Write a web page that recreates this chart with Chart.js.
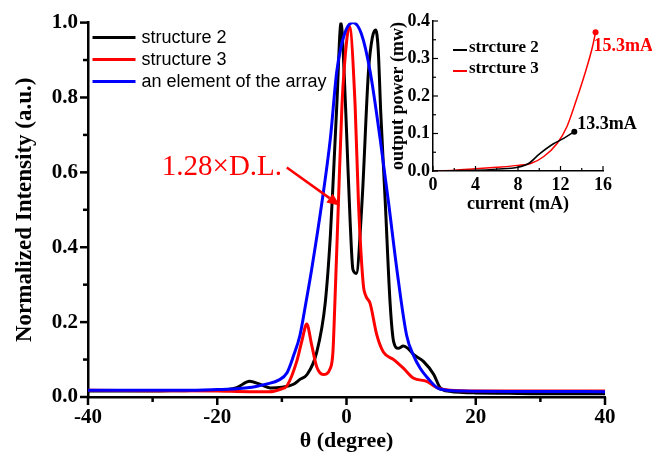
<!DOCTYPE html>
<html>
<head>
<meta charset="utf-8">
<script src="https://cdn.jsdelivr.net/npm/chart.js@4.4.0/dist/chart.umd.min.js"></script>
<style>
  html, body { margin: 0; padding: 0; background: #fff; }
  #wrap { position: relative; width: 652px; height: 459px; }
  #main { position: absolute; left: 0; top: 0; }
  #inset { position: absolute; left: 380px; top: 0; }
</style>
</head>
<body>
<div id="wrap">
  <canvas id="main" width="652" height="459"></canvas>
  <canvas id="inset" width="272" height="230"></canvas>
</div>
<script>
// far-field data (angle in degrees, normalized intensity)
const s2Angle = [-40, -30, -25, -20, -17, -15, -13.5, -11.8, -10, -8.2, -7.2, -6.1, -4.6, -3.3, -2.5, -2.0, -1.5, -0.84, -0.4, 0.05, 0.56, 1.0, 1.5, 2.4, 3.4, 4.0, 4.5, 4.9, 5.3, 6.0, 6.75, 7.3, 8.0, 8.8, 9.5, 10.4, 11.9, 13.5, 14.5, 16, 18, 20, 25, 30, 40];
const s2Intensity = [0.016, 0.016, 0.017, 0.018, 0.025, 0.042, 0.035, 0.024, 0.026, 0.034, 0.047, 0.06, 0.12, 0.25, 0.43, 0.60, 0.78, 1.0, 0.88, 0.69, 0.47, 0.34, 0.33, 0.52, 0.87, 0.96, 0.98, 0.93, 0.76, 0.52, 0.25, 0.147, 0.13, 0.136, 0.13, 0.113, 0.095, 0.06, 0.025, 0.015, 0.012, 0.011, 0.01, 0.009, 0.009];

const s3Angle = [-40, -30, -20, -15, -12, -10, -9.2, -7.7, -6.9, -6.15, -5.4, -4.6, -3.6, -2.5, -2.1, -1.8, -1.25, -0.7, 0.05, 0.45, 1.33, 1.85, 2.6, 3.0, 3.65, 4.7, 5.7, 7.3, 8.8, 10.4, 12.4, 14, 16, 20, 30, 40];
const s3Intensity = [0.018, 0.017, 0.016, 0.014, 0.014, 0.022, 0.03, 0.095, 0.15, 0.195, 0.14, 0.08, 0.06, 0.077, 0.12, 0.25, 0.52, 0.78, 0.955, 0.99, 0.78, 0.52, 0.30, 0.27, 0.25, 0.165, 0.12, 0.10, 0.077, 0.05, 0.042, 0.025, 0.018, 0.016, 0.016, 0.016];

const elemAngle = [-40, -30, -25, -20, -17, -14, -12.3, -10.5, -9.2, -8.2, -7.2, -6.3, -5.4, -3.8, -2.5, -1.5, -0.3, 1.0, 2.3, 3.65, 5.2, 6.5, 7.8, 9.3, 10.4, 11.4, 12.6, 14, 15.5, 18, 25, 30, 40];
const elemIntensity = [0.018, 0.018, 0.018, 0.02, 0.022, 0.028, 0.035, 0.045, 0.065, 0.11, 0.165, 0.25, 0.34, 0.52, 0.69, 0.87, 0.97, 1.0, 0.97, 0.87, 0.69, 0.52, 0.34, 0.165, 0.11, 0.077, 0.05, 0.025, 0.018, 0.016, 0.015, 0.015, 0.014];

// inset: output power vs current
const s2Current = [0, 2, 4, 6, 8, 9, 10, 11.3, 12.3, 13.3];
const s2Power = [0, 0.001, 0.002, 0.005, 0.01, 0.02, 0.045, 0.072, 0.087, 0.105];
const s3Current = [0, 2, 4, 6, 8, 9.2, 10.4, 11.7, 12.6, 13.5, 14.3, 15, 15.3];
const s3Power = [0, 0.002, 0.006, 0.01, 0.015, 0.02, 0.038, 0.074, 0.118, 0.19, 0.26, 0.33, 0.37];

const mainTicksX = [-40, 40, 20];   // min, max, step
const mainTicksY = [0, 1, 0.2];
const insetTicksX = [0, 16, 4];
const insetTicksY = [0, 0.4, 0.1];

const zip = (xs, ys) => xs.map((v, i) => ({ x: v, y: ys[i] }));

const serif = '"Liberation Serif", "Times New Roman", serif';

// Chart.js has no minor ticks, so all tick marks are drawn here
const tickMarks = {
  id: 'tickMarks',
  afterDraw(chart, args, opts) {
    const ctx = chart.ctx;
    const area = chart.chartArea;
    const dir = opts.inward ? -1 : 1;
    ctx.save();
    ctx.strokeStyle = '#000';
    ctx.lineWidth = opts.width;
    ['x', 'y'].forEach(id => {
      const scale = chart.scales[id];
      const values = scale.ticks.map(t => t.value);
      const marks = [];
      values.forEach((v, i) => {
        marks.push([v, opts.majorLen]);
        if (i < values.length - 1) marks.push([(v + values[i + 1]) / 2, opts.minorLen]);
      });
      marks.forEach(([v, len]) => {
        const p = scale.getPixelForValue(v);
        ctx.beginPath();
        if (id === 'x') {
          ctx.moveTo(p, area.bottom);
          ctx.lineTo(p, area.bottom + dir * len);
        } else {
          ctx.moveTo(area.left, p);
          ctx.lineTo(area.left - dir * len, p);
        }
        ctx.stroke();
      });
    });
    ctx.restore();
  }
};

// legend with a line sample, placed inside the plot area
const lineLegend = {
  id: 'lineLegend',
  afterDraw(chart, args, opts) {
    const ctx = chart.ctx;
    const area = chart.chartArea;
    ctx.save();
    ctx.font = opts.font;
    ctx.textBaseline = 'middle';
    chart.data.datasets.forEach((ds, row) => {
      const y = area.top + opts.top + row * opts.rowGap;
      const x = area.left + opts.left;
      ctx.strokeStyle = ds.borderColor;
      ctx.lineWidth = opts.lineWidth;
      ctx.beginPath();
      ctx.moveTo(x, y + opts.lineDy);
      ctx.lineTo(x + opts.lineLen, y + opts.lineDy);
      ctx.stroke();
      ctx.fillStyle = '#000';
      ctx.fillText(ds.label, x + opts.lineLen + opts.gap, y);
    });
    ctx.restore();
  }
};

// "1.28×D.L." note with its arrow, in data coordinates
const dlNote = {
  id: 'dlNote',
  afterDatasetsDraw(chart, args, opts) {
    const { x, y } = chart.scales;
    const ctx = chart.ctx;
    ctx.save();
    ctx.fillStyle = opts.color;
    ctx.strokeStyle = opts.color;
    ctx.font = opts.font;
    ctx.textAlign = 'right';
    ctx.textBaseline = 'alphabetic';
    ctx.fillText(opts.text, x.getPixelForValue(opts.textAt[0]), y.getPixelForValue(opts.textAt[1]));

    const x0 = x.getPixelForValue(opts.from[0]), y0 = y.getPixelForValue(opts.from[1]);
    const x1 = x.getPixelForValue(opts.to[0]), y1 = y.getPixelForValue(opts.to[1]);
    const a = Math.atan2(y1 - y0, x1 - x0);
    const head = 13, half = 5.5;
    const bx = x1 - head * Math.cos(a), by = y1 - head * Math.sin(a);
    ctx.lineWidth = 2.5;
    ctx.beginPath();
    ctx.moveTo(x0, y0);
    ctx.lineTo(bx, by);
    ctx.stroke();
    ctx.beginPath();
    ctx.moveTo(x1, y1);
    ctx.lineTo(bx + half * Math.sin(a), by - half * Math.cos(a));
    ctx.lineTo(bx - half * Math.sin(a), by + half * Math.cos(a));
    ctx.closePath();
    ctx.fill();
    ctx.restore();
  }
};

// "13.3mA" / "15.3mA" next to the last point of each inset curve
const endLabels = {
  id: 'endLabels',
  afterDatasetsDraw(chart, args, opts) {
    const ctx = chart.ctx;
    ctx.save();
    ctx.font = opts.font;
    ctx.textAlign = 'left';
    ctx.textBaseline = 'middle';
    chart.data.datasets.forEach((ds, i) => {
      const pts = chart.getDatasetMeta(i).data;
      const last = pts[pts.length - 1];
      const off = opts.offsets[i];
      ctx.fillStyle = ds.borderColor;
      ctx.fillText(ds.data[ds.data.length - 1].x + 'mA', last.x + off[0], last.y + off[1]);
    });
    ctx.restore();
  }
};

const mainChart = new Chart(document.getElementById('main'), {
  type: 'line',
  data: {
    datasets: [
      { label: 'structure 2', data: zip(s2Angle, s2Intensity), borderColor: '#000000', order: 3 },
      { label: 'structure 3', data: zip(s3Angle, s3Intensity), borderColor: '#ff0000', order: 2 },
      { label: 'an element of the array', data: zip(elemAngle, elemIntensity), borderColor: '#0000ff', order: 1 }
    ]
  },
  options: {
    responsive: false,
    animation: false,
    layout: { padding: { top: 16, right: 47, left: 0, bottom: 0 } },
    elements: {
      point: { radius: 0 },
      line: { borderWidth: 3, cubicInterpolationMode: 'monotone', fill: false }
    },
    plugins: {
      legend: { display: false },
      tooltip: { enabled: false },
      tickMarks: { width: 2.5, majorLen: 8, minorLen: 5, inward: false },
      lineLegend: { font: '18px "Liberation Sans", Arial, sans-serif', left: 4.5, lineLen: 43, gap: 6, top: 15, rowGap: 22, lineWidth: 3, lineDy: 0 },
      dlNote: { text: '1.28×D.L.', color: '#ff0000', font: '29px ' + serif, textAt: [-9.97, 0.592], from: [-9.24, 0.613], to: [-0.99, 0.511] }
    },
    scales: {
      x: {
        type: 'linear',
        min: mainTicksX[0], max: mainTicksX[1],
        ticks: { stepSize: mainTicksX[2], padding: 8, color: '#000', font: { family: serif, size: 21, weight: 'bold' } },
        grid: { display: false, drawTicks: false },
        border: { color: '#000', width: 2.5 },
        title: { display: true, text: 'θ (degree)', color: '#000', font: { family: serif, size: 22, weight: 'bold' }, padding: { top: 0, bottom: 4 } },
        afterFit: s => { s.height = 62; }
      },
      y: {
        min: mainTicksY[0], max: mainTicksY[1],
        ticks: { stepSize: mainTicksY[2], padding: 10, color: '#000', font: { family: serif, size: 21, weight: 'bold' }, callback: v => v.toFixed(1) },
        grid: { display: false, drawTicks: false },
        border: { color: '#000', width: 2.5 },
        title: { display: true, text: 'Normalized Intensity (a.u.)', color: '#000', font: { family: serif, size: 23, weight: 'bold' }, padding: { top: 11, bottom: 0 } },
        afterFit: s => { s.width = 88; }
      }
    }
  },
  plugins: [tickMarks, lineLegend, dlNote]
});

const insetChart = new Chart(document.getElementById('inset'), {
  type: 'line',
  data: {
    datasets: [
      { label: 'strcture 2', data: zip(s2Current, s2Power), borderColor: '#000000', backgroundColor: '#000000' },
      { label: 'strcture 3', data: zip(s3Current, s3Power), borderColor: '#ff0000', backgroundColor: '#ff0000' }
    ]
  },
  options: {
    responsive: false,
    animation: false,
    layout: { padding: { top: 21, right: 49, left: 0, bottom: 0 } },
    elements: {
      point: { radius: ctx => (ctx.dataIndex === ctx.dataset.data.length - 1 ? 3 : 0), borderWidth: 0 },
      line: { borderWidth: 1.5, cubicInterpolationMode: 'monotone', fill: false }
    },
    plugins: {
      legend: { display: false },
      tooltip: { enabled: false },
      tickMarks: { width: 1.2, majorLen: 5, minorLen: 3, inward: true },
      lineLegend: { font: 'bold 17px ' + serif, left: 20, lineLen: 14, gap: 2, top: 27, rowGap: 21, lineWidth: 2, lineDy: 2 },
      endLabels: { font: 'bold 18px ' + serif, offsets: [[3, -7], [-2, 14]] }
    },
    scales: {
      x: {
        type: 'linear',
        min: insetTicksX[0], max: insetTicksX[1],
        ticks: { stepSize: insetTicksX[2], padding: 4, color: '#000', font: { family: serif, size: 18, weight: 'bold' } },
        grid: { display: false, drawTicks: false },
        border: { color: '#000', width: 1.5 },
        title: { display: true, text: 'current (mA)', color: '#000', font: { family: serif, size: 18, weight: 'bold' }, padding: { top: 0, bottom: 15 } },
        afterFit: s => { s.height = 59; }
      },
      y: {
        min: insetTicksY[0], max: insetTicksY[1],
        ticks: { stepSize: insetTicksY[2], padding: 3, color: '#000', font: { family: serif, size: 18, weight: 'bold' }, callback: v => v.toFixed(1) },
        grid: { display: false, drawTicks: false },
        border: { color: '#000', width: 1.5 },
        title: { display: true, text: 'output power (mw)', color: '#000', font: { family: serif, size: 18, weight: 'bold' }, padding: { top: 8, bottom: 0 } },
        afterFit: s => { s.width = 53; }
      }
    }
  },
  plugins: [tickMarks, lineLegend, endLabels]
});
</script>
</body>
</html>
